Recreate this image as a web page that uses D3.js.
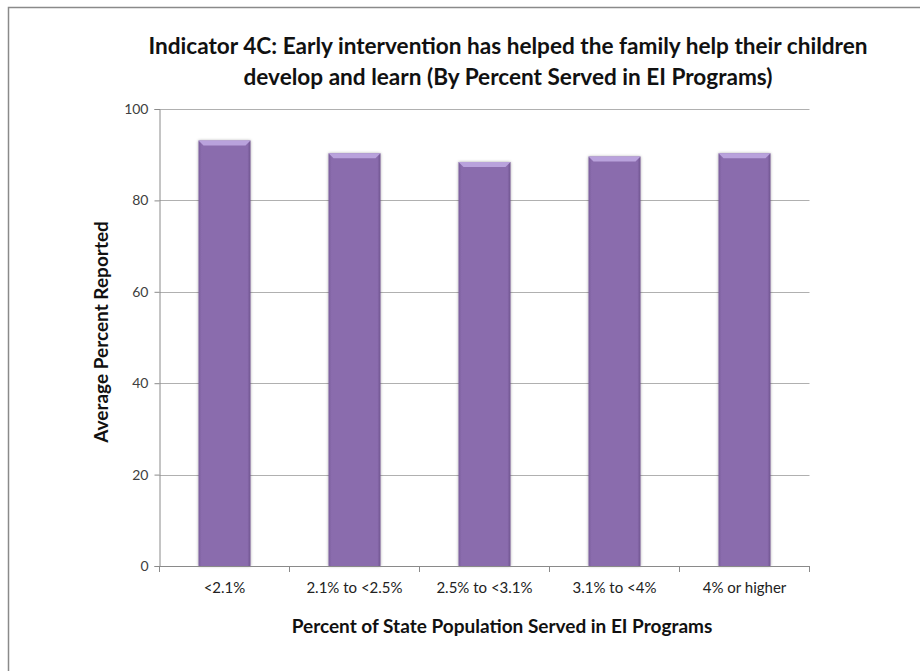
<!DOCTYPE html>
<html><head><meta charset="utf-8">
<script src="https://cdn.jsdelivr.net/npm/d3@7"></script>
<style>html,body{margin:0;padding:0;background:#fff;}</style>
</head><body>
<script>
const categories = ["<2.1%", "2.1% to <2.5%", "2.5% to <3.1%", "3.1% to <4%", "4% or higher"];
const values = [93.1, 90.3, 88.4, 89.6, 90.3];
const yTicks = [0, 20, 40, 60, 80, 100];
const titleLines = ["Indicator 4C: Early intervention has helped the family help their children", "develop and learn (By Percent Served in EI Programs)"];
const yLabel = "Average Percent Reported";
const xLabel = "Percent of State Population Served in EI Programs";

(function () {
const W = 920, H = 671;
const font = "Lato, 'Open Sans', sans-serif";
const svg = d3.select("body").append("svg").attr("width", W).attr("height", H);

const defs = svg.append("defs");
const g1 = defs.append("linearGradient").attr("id", "barGrad").attr("x1", "0").attr("x2", "1").attr("y1", "0").attr("y2", "0");
g1.append("stop").attr("offset", "0").attr("stop-color", "#7a5d9c");
g1.append("stop").attr("offset", "0.06").attr("stop-color", "#8a6cad");
g1.append("stop").attr("offset", "0.94").attr("stop-color", "#8a6cad");
g1.append("stop").attr("offset", "1").attr("stop-color", "#6f548f");
const f = defs.append("filter").attr("id", "shadow").attr("x", "-20%").attr("y", "-5%").attr("width", "140%").attr("height", "110%");
f.append("feDropShadow").attr("dx", 0).attr("dy", 0).attr("stdDeviation", 1.6).attr("flood-color", "#000").attr("flood-opacity", 0.35);

svg.append("rect").attr("x", 8.5).attr("y", 7.5).attr("width", 930).attr("height", 700)
  .attr("fill", "none").attr("stroke", "#8a8a8a").attr("stroke-width", 1.5);

const pL = 159.5, pR = 809.5, pT = 109, pB = 566;
const x = d3.scaleBand().domain(categories).range([pL, pR]).paddingInner(0.6).paddingOuter(0.3);
const xb = d3.scaleBand().domain(categories).range([pL, pR]);
const y = d3.scaleLinear().domain([0, 100]).range([pB, pT]);

svg.append("g").selectAll("line").data(yTicks.filter(d => d > 0)).join("line")
  .attr("x1", pL).attr("x2", pR).attr("y1", d => Math.round(y(d)) + 0.5).attr("y2", d => Math.round(y(d)) + 0.5)
  .attr("stroke", "#b0b0b0").attr("stroke-width", 1);

const yAxis = svg.append("g").attr("transform", `translate(${pL},0)`)
  .call(d3.axisLeft(y).tickValues(yTicks).tickSize(5).tickPadding(6));
yAxis.select(".domain").attr("stroke", "#8a8a8a");
yAxis.selectAll(".tick line").attr("stroke", "#8a8a8a");
yAxis.selectAll("text").attr("font-family", font).attr("font-size", 14).attr("fill", "#404040");

const bars = svg.append("g").selectAll("g").data(categories).join("g");
bars.append("rect").attr("x", d => x(d)).attr("width", x.bandwidth())
  .attr("y", (d, i) => y(values[i])).attr("height", (d, i) => pB - y(values[i]))
  .attr("fill", "url(#barGrad)").attr("filter", "url(#shadow)");
bars.append("path").attr("d", (d, i) => {
  const x0 = x(d), x1 = x(d) + x.bandwidth(), t = y(values[i]);
  return `M${x0},${t} L${x1},${t} L${x1 - 5},${t + 5} L${x0 + 5},${t + 5} Z`;
}).attr("fill", "#b9a2dc");

const xAxis = svg.append("g").attr("transform", `translate(0,${pB})`);
xAxis.append("line").attr("x1", pL).attr("x2", pR).attr("y1", 0.5).attr("y2", 0.5).attr("stroke", "#8a8a8a");
xAxis.selectAll("line.tk").data(d3.range(categories.length + 1)).join("line").attr("class", "tk")
  .attr("x1", i => pL + i * xb.bandwidth()).attr("x2", i => pL + i * xb.bandwidth())
  .attr("y1", 0).attr("y2", 6).attr("stroke", "#8a8a8a");
xAxis.selectAll("text").data(categories).join("text")
  .attr("x", d => xb(d) + xb.bandwidth() / 2).attr("y", 27).attr("text-anchor", "middle")
  .attr("font-family", font).attr("font-size", 15).attr("fill", "#222").text(d => d);

svg.append("g").selectAll("text").data(titleLines).join("text")
  .attr("x", 508).attr("y", (d, i) => 54 + i * 31).attr("text-anchor", "middle")
  .attr("font-family", font).attr("font-weight", "bold").attr("font-size", 22.6).attr("fill", "#111").text(d => d);

svg.append("text").attr("transform", "translate(108,332) rotate(-90)").attr("text-anchor", "middle")
  .attr("font-family", font).attr("font-weight", "bold").attr("font-size", 19).attr("fill", "#111").text(yLabel);
svg.append("text").attr("x", 502).attr("y", 633).attr("text-anchor", "middle")
  .attr("font-family", font).attr("font-weight", "bold").attr("font-size", 19).attr("fill", "#111").text(xLabel);
})();
</script>
</body></html>
